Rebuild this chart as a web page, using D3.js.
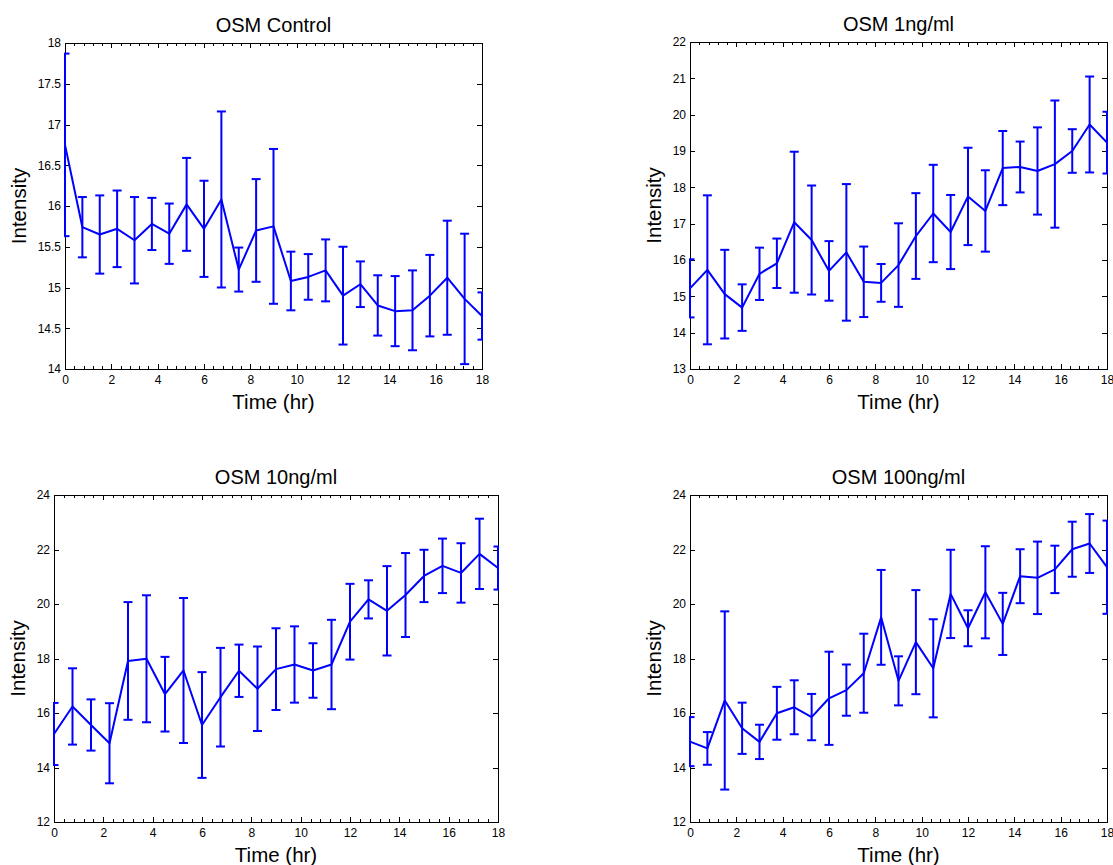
<!DOCTYPE html>
<html>
<head>
<meta charset="utf-8">
<script src="https://cdn.jsdelivr.net/npm/d3@7"></script>
<style>
  body { margin:0; background:#fff; }
  svg { display:block; font-family:"Liberation Sans", Arial, sans-serif; }
</style>
</head>
<body>
<div id="chart"></div>
<script>
// time points (hr), one every 45 min
var hours = [0, 0.75, 1.5, 2.25, 3, 3.75, 4.5, 5.25, 6, 6.75, 7.5, 8.25, 9,
             9.75, 10.5, 11.25, 12, 12.75, 13.5, 14.25, 15, 15.75, 16.5, 17.25, 18];
var xTicks = [0, 2, 4, 6, 8, 10, 12, 14, 16, 18];

var titles = ["OSM Control", "OSM 1ng/ml", "OSM 10ng/ml", "OSM 100ng/ml"];

// mean intensity and error bar half-length per panel
var controlMean = [16.75, 15.74, 15.65, 15.72, 15.58, 15.78, 15.66, 16.02, 15.72, 16.08, 15.22, 15.70, 15.75,
                   15.08, 15.13, 15.21, 14.90, 15.04, 14.78, 14.71, 14.72, 14.90, 15.12, 14.86, 14.65];
var controlErr  = [1.12, 0.37, 0.48, 0.47, 0.53, 0.32, 0.37, 0.57, 0.59, 1.08, 0.27, 0.63, 0.95,
                   0.36, 0.28, 0.38, 0.60, 0.28, 0.37, 0.43, 0.49, 0.50, 0.70, 0.80, 0.29];

var osm1Mean = [15.22, 15.73, 15.06, 14.69, 15.62, 15.91, 17.04, 16.55, 15.70, 16.21, 15.40, 15.37, 15.86,
                16.66, 17.28, 16.77, 17.75, 17.35, 18.53, 18.56, 18.45, 18.64, 19.00, 19.73, 19.23];
var osm1Err  = [0.80, 2.05, 1.22, 0.64, 0.72, 0.68, 1.94, 1.50, 0.82, 1.88, 0.97, 0.52, 1.15,
                1.18, 1.34, 1.02, 1.34, 1.12, 1.02, 0.70, 1.20, 1.75, 0.60, 1.32, 0.85];

var osm10Mean = [15.23, 16.24, 15.56, 14.89, 17.91, 17.99, 16.69, 17.56, 15.56, 16.58, 17.55, 16.89, 17.61,
                 17.78, 17.56, 17.78, 19.35, 20.17, 19.75, 20.33, 21.03, 21.40, 21.14, 21.84, 21.32];
var osm10Err  = [1.14, 1.40, 0.94, 1.47, 2.16, 2.33, 1.37, 2.66, 1.94, 1.81, 0.96, 1.55, 1.50,
                 1.40, 1.00, 1.64, 1.39, 0.70, 1.64, 1.54, 0.96, 1.00, 1.09, 1.29, 0.79];

var osm100Mean = [14.95, 14.70, 16.46, 15.44, 14.94, 15.99, 16.21, 15.85, 16.54, 16.84, 17.46, 19.51, 17.18,
                  18.60, 17.64, 20.37, 19.11, 20.43, 19.27, 21.02, 20.96, 21.27, 22.01, 22.22, 21.35];
var osm100Err  = [0.90, 0.60, 3.27, 0.94, 0.63, 0.97, 0.99, 0.85, 1.71, 0.94, 1.45, 1.74, 0.90,
                  1.91, 1.80, 1.62, 0.66, 1.69, 1.14, 0.99, 1.33, 0.87, 1.01, 1.08, 1.71];

var yTicks = [
  [14, 14.5, 15, 15.5, 16, 16.5, 17, 17.5, 18],
  [13, 14, 15, 16, 17, 18, 19, 20, 21, 22],
  [12, 14, 16, 18, 20, 22, 24],
  [12, 14, 16, 18, 20, 22, 24]
];
var means = [controlMean, osm1Mean, osm10Mean, osm100Mean];
var errs = [controlErr, osm1Err, osm10Err, osm100Err];

// panel boxes in page pixels
var boxes = [
  {x0: 65,  x1: 482,  y0: 43,  y1: 369},
  {x0: 690, x1: 1107, y0: 42,  y1: 369},
  {x0: 54,  x1: 498,  y0: 495, y1: 822},
  {x0: 690, x1: 1107, y0: 495, y1: 822}
];

var svg = d3.select("#chart").append("svg")
  .attr("width", 1113)
  .attr("height", 865);

var blue = "#0000ff";
var minorX = d3.range(0, 18.001, 0.4);

boxes.forEach(function(b, i){
  var x = d3.scaleLinear().domain([0, 18]).range([b.x0, b.x1]);
  var yt = yTicks[i];
  var y = d3.scaleLinear().domain([yt[0], yt[yt.length-1]]).range([b.y1, b.y0]);
  var g = svg.append("g");

  g.append("rect")
    .attr("x", b.x0).attr("y", b.y0)
    .attr("width", b.x1 - b.x0).attr("height", b.y1 - b.y0)
    .attr("fill", "#fff").attr("stroke", "#000").attr("stroke-width", 1)
    .attr("shape-rendering", "crispEdges");

  function style(ax){
    ax.attr("font-family", null).attr("font-size", 12);
    ax.selectAll(".domain").remove();
    ax.selectAll("line").attr("stroke", "#000").attr("shape-rendering", "crispEdges");
    ax.selectAll("text").attr("fill", "#000");
  }

  // bottom and top x ticks, pointing inward
  g.append("g").attr("transform", "translate(0," + b.y1 + ")")
    .call(d3.axisBottom(x).tickValues(minorX).tickSize(-3).tickFormat("")).call(style);
  g.append("g").attr("transform", "translate(0," + b.y1 + ")")
    .call(d3.axisBottom(x).tickValues(xTicks).tickSize(-5).tickPadding(6)).call(style);
  g.append("g").attr("transform", "translate(0," + b.y0 + ")")
    .call(d3.axisTop(x).tickValues(minorX).tickSize(-3).tickFormat("")).call(style);
  g.append("g").attr("transform", "translate(0," + b.y0 + ")")
    .call(d3.axisTop(x).tickValues(xTicks).tickSize(-5).tickFormat("")).call(style);

  // left and right y ticks
  var leftAx = g.append("g").attr("transform", "translate(" + b.x0 + ",0)")
    .call(d3.axisLeft(y).tickValues(yt).tickSize(-5).tickPadding(4).tickFormat(function(d){ return String(d); }))
    .call(style);
  g.append("g").attr("transform", "translate(" + b.x1 + ",0)")
    .call(d3.axisRight(y).tickValues(yt).tickSize(-5).tickFormat("")).call(style);

  // data, clipped to the axes box
  var clipId = "clip" + i;
  svg.append("clipPath").attr("id", clipId).append("rect")
    .attr("x", b.x0 - 1).attr("y", b.y0 - 1)
    .attr("width", b.x1 - b.x0 + 2).attr("height", b.y1 - b.y0 + 2);

  var pts = hours.map(function(t, k){ return {t: t, m: means[i][k], e: errs[i][k]}; });
  var data = g.append("g").attr("clip-path", "url(#" + clipId + ")");

  var bars = data.selectAll(".eb").data(pts).enter().append("g").attr("class", "eb");
  bars.append("line")
    .attr("x1", function(d){ return x(d.t); }).attr("x2", function(d){ return x(d.t); })
    .attr("y1", function(d){ return y(d.m + d.e); }).attr("y2", function(d){ return y(d.m - d.e); });
  bars.append("line")
    .attr("x1", function(d){ return x(d.t) - 4.5; }).attr("x2", function(d){ return x(d.t) + 4.5; })
    .attr("y1", function(d){ return y(d.m + d.e); }).attr("y2", function(d){ return y(d.m + d.e); });
  bars.append("line")
    .attr("x1", function(d){ return x(d.t) - 4.5; }).attr("x2", function(d){ return x(d.t) + 4.5; })
    .attr("y1", function(d){ return y(d.m - d.e); }).attr("y2", function(d){ return y(d.m - d.e); });
  bars.selectAll("line").attr("stroke", blue).attr("stroke-width", 2);

  data.append("path")
    .datum(pts)
    .attr("fill", "none")
    .attr("stroke", blue)
    .attr("stroke-width", 2)
    .attr("stroke-linejoin", "round")
    .attr("d", d3.line().x(function(d){ return x(d.t); }).y(function(d){ return y(d.m); }));

  // labels
  var cx = (b.x0 + b.x1) / 2;
  g.append("text")
    .attr("x", cx).attr("y", b.y0 - 11)
    .attr("text-anchor", "middle").attr("font-size", 20)
    .text(titles[i]);
  g.append("text")
    .attr("x", cx).attr("y", b.y1 + 40)
    .attr("text-anchor", "middle").attr("font-size", 20.5)
    .text("Time (hr)");
  // y label sits just left of the widest tick label
  var lb = leftAx.node().getBBox();
  var ylx = b.x0 + lb.x - 12;
  g.append("text")
    .attr("transform", "translate(" + ylx + "," + ((b.y0 + b.y1) / 2) + ") rotate(-90)")
    .attr("text-anchor", "middle").attr("font-size", 20.5)
    .text("Intensity");
});
</script>
</body>
</html>
